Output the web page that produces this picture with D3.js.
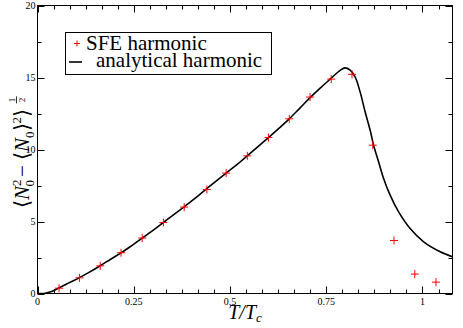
<!DOCTYPE html>
<html>
<head>
<meta charset="utf-8">
<script src="https://cdn.jsdelivr.net/npm/d3@7"></script>
<style>
  body { margin: 0; background: #fff; }
  text { font-family: "Liberation Serif", "Times New Roman", serif; }
</style>
</head>
<body>
<div id="chart"></div>
<script>
// SFE harmonic data points (T/Tc, fluctuation)
var sfeT = [0.056, 0.109, 0.163, 0.217, 0.272, 0.327, 0.381, 0.440, 0.490, 0.545,
            0.600, 0.654, 0.708, 0.763, 0.817, 0.871, 0.926, 0.980, 1.035];
var sfeVal = [0.37, 1.09, 1.92, 2.83, 3.85, 4.93, 6.00, 7.22, 8.36, 9.56,
              10.83, 12.13, 13.64, 14.89, 15.22, 10.30, 3.68, 1.35, 0.79];

// analytical harmonic curve
var curveT = [0, 0.01, 0.02, 0.03, 0.04, 0.055, 0.08, 0.109, 0.136, 0.163, 0.19, 0.218,
              0.245, 0.272, 0.3, 0.327, 0.354, 0.381, 0.409, 0.436, 0.463, 0.49, 0.518,
              0.545, 0.572, 0.6, 0.627, 0.654, 0.681, 0.708, 0.735, 0.763, 0.786, 0.799,
              0.812, 0.825, 0.838, 0.851, 0.864, 0.873, 0.886, 0.899, 0.916, 0.938,
              0.968, 1.003, 1.046, 1.078];
var curveVal = [0, 0, 0.02, 0.08, 0.18, 0.38, 0.72, 1.1, 1.5, 1.93, 2.38, 2.84,
                3.33, 3.84, 4.38, 4.93, 5.48, 6.02, 6.6, 7.2, 7.78, 8.36, 8.95,
                9.56, 10.18, 10.83, 11.47, 12.13, 12.86, 13.6, 14.28, 14.95, 15.5, 15.67,
                15.51, 15.05, 14.0, 12.62, 11.35, 10.3, 9.15, 7.99, 6.83, 5.67,
                4.51, 3.59, 2.9, 2.55];

var xMajor = [0, 0.25, 0.5, 0.75, 1];
var xLabels = ['0', '0.25', '0.5', '0.75', '1'];
var yMajor = [0, 5, 10, 15, 20];
var yLabels = ['0', '5', '10', '15', '20'];
var legendNames = ['SFE harmonic', 'analytical harmonic'];

var W = 463, H = 328;
var box = {left: 37.5, right: 452.5, top: 5.5, bottom: 293.5};

var svg = d3.select('#chart').append('svg')
  .attr('width', W).attr('height', H);

var x = d3.scaleLinear().domain([0, 1.078]).range([box.left, box.right]);
var y = d3.scaleLinear().domain([0, 20]).range([box.bottom, box.top]);

// minor ticks: 6 per x major interval, 2 per y major interval
var xMinor = d3.range(0, 1.078, 0.25 / 6).filter(function(d) {
  return Math.abs(d / 0.25 - Math.round(d / 0.25)) > 1e-6;
});
var yMinor = [2.5, 7.5, 12.5, 17.5];

var ticks = svg.append('g').attr('stroke', '#000').attr('stroke-width', 1);
function tickLines(vals, len, horiz) {
  vals.forEach(function(v) {
    if (horiz) {
      var px = Math.round(x(v)) + 0.5;
      ticks.append('line').attr('x1', px).attr('x2', px)
        .attr('y1', box.bottom).attr('y2', box.bottom - len);
      ticks.append('line').attr('x1', px).attr('x2', px)
        .attr('y1', box.top).attr('y2', box.top + len);
    } else {
      var py = Math.round(y(v)) + 0.5;
      ticks.append('line').attr('y1', py).attr('y2', py)
        .attr('x1', box.left).attr('x2', box.left + len);
      ticks.append('line').attr('y1', py).attr('y2', py)
        .attr('x1', box.right).attr('x2', box.right - len);
    }
  });
}
tickLines(xMajor, 7, true);
tickLines(xMinor, 4, true);
tickLines(yMajor, 7, false);
tickLines(yMinor, 4, false);

// tick labels
svg.append('g').selectAll('text').data(xMajor).join('text')
  .attr('x', function(d) { return x(d); })
  .attr('y', box.bottom + 11)
  .attr('text-anchor', 'middle')
  .attr('font-size', 10)
  .text(function(d, i) { return xLabels[i]; });

svg.append('g').selectAll('text').data(yMajor).join('text')
  .attr('x', box.left - 2)
  .attr('y', function(d) { return y(d) + 3.5; })
  .attr('text-anchor', 'end')
  .attr('font-size', 10)
  .text(function(d, i) { return yLabels[i]; });

// analytical curve
var line = d3.line()
  .x(function(d, i) { return x(curveT[i]); })
  .y(function(d) { return y(d); })
  .curve(d3.curveCatmullRom.alpha(0.5));

svg.append('path')
  .datum(curveVal)
  .attr('d', line)
  .attr('fill', 'none')
  .attr('stroke', '#000')
  .attr('stroke-width', 1.6);

// SFE points as red crosses
svg.append('g').selectAll('path').data(sfeVal).join('path')
  .attr('transform', function(d, i) { return 'translate(' + x(sfeT[i]) + ',' + y(d) + ')'; })
  .attr('d', 'M-4,0H4M0,-4V4')
  .attr('stroke', '#ff0000')
  .attr('stroke-width', 1)
  .attr('fill', 'none');

// frame
svg.append('rect')
  .attr('x', box.left).attr('y', box.top)
  .attr('width', box.right - box.left).attr('height', box.bottom - box.top)
  .attr('fill', 'none').attr('stroke', '#000').attr('stroke-width', 1);

// legend
var leg = svg.append('g');
leg.append('rect')
  .attr('x', 65.5).attr('y', 32.5).attr('width', 206).attr('height', 42)
  .attr('fill', '#fff').attr('stroke', '#000').attr('stroke-width', 1);
leg.append('path')
  .attr('d', 'M74,43.5H80M77,40.5V46.5')
  .attr('stroke', '#ff0000').attr('stroke-width', 1);
leg.append('text').attr('x', 86).attr('y', 49.5).attr('font-size', 21).text(legendNames[0]);
leg.append('line')
  .attr('x1', 69).attr('x2', 82).attr('y1', 62).attr('y2', 62)
  .attr('stroke', '#000').attr('stroke-width', 1.6);
leg.append('text').attr('x', 96).attr('y', 67).attr('font-size', 21).text(legendNames[1]);

// x axis title
var xt = svg.append('text')
  .attr('x', 245).attr('y', 319)
  .attr('text-anchor', 'middle')
  .attr('font-size', 20)
  .attr('font-style', 'italic');
xt.append('tspan').text('T/T');
xt.append('tspan').attr('font-size', 13).attr('dy', 3).text('c');

// y axis title, built from pieces and rotated
var yg = svg.append('g').attr('transform', 'translate(29,208) rotate(-90)');
var yt = yg.append('text').attr('font-size', 21);
yt.append('tspan').text('\u27E8');
yt.append('tspan').attr('font-style', 'italic').text('N');
yt.append('tspan').attr('font-size', 13).attr('dy', -8).text('2');
yt.append('tspan').attr('font-size', 13).attr('dx', -7).attr('dy', 13).text('0');
yt.append('tspan').attr('dy', -5).attr('dx', 3).text('\u2212 \u27E8');
yt.append('tspan').attr('font-style', 'italic').text('N');
yt.append('tspan').attr('font-size', 13).attr('dy', 5).text('0');
yt.append('tspan').attr('dy', -5).text('\u27E9');
yt.append('tspan').attr('font-size', 13).attr('dy', -8).text('2');
yt.append('tspan').attr('dy', 8).text('\u27E9');

// exponent 1/2 as a small stacked fraction after the bracket
var fx = yt.node().getComputedTextLength() + 5;
yg.append('text').attr('x', fx).attr('y', -14.5)
  .attr('font-size', 9).attr('text-anchor', 'middle').text('1');
yg.append('line')
  .attr('x1', fx - 3.5).attr('x2', fx + 3.5).attr('y1', -12.5).attr('y2', -12.5)
  .attr('stroke', '#000').attr('stroke-width', 0.8);
yg.append('text').attr('x', fx).attr('y', -4.5)
  .attr('font-size', 9).attr('text-anchor', 'middle').text('2');
</script>
</body>
</html>
